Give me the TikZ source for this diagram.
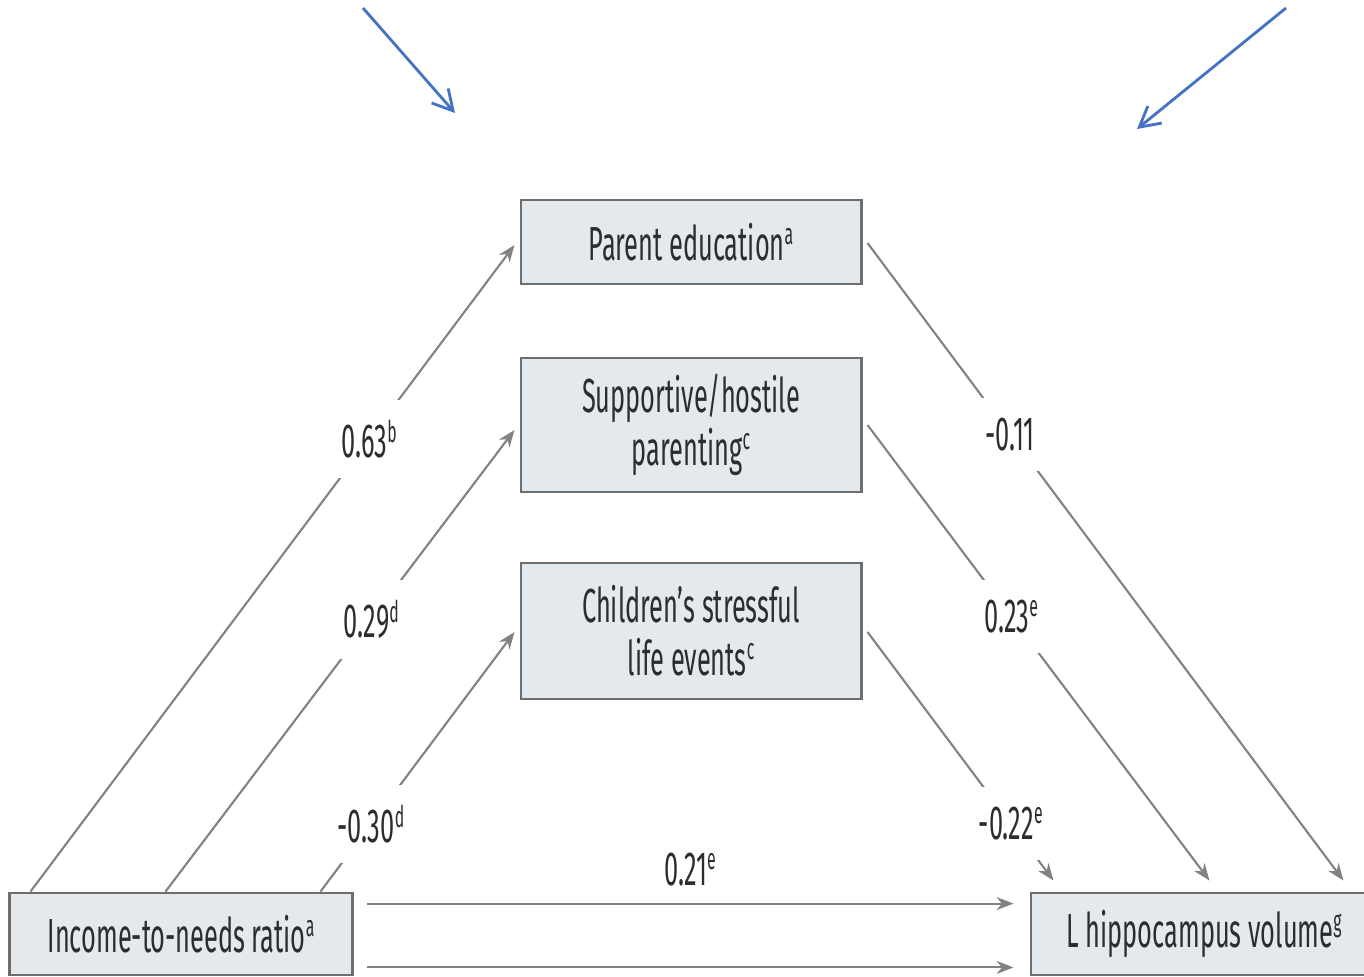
\documentclass[tikz,border=0pt]{standalone}
\usepackage{fontspec}
\setmainfont{Fira Sans}[FakeStretch=0.53]
\usepackage{xcolor}
\usetikzlibrary{arrows.meta,calc}
\definecolor{boxfill}{RGB}{228,233,238}
\definecolor{boxline}{RGB}{110,110,110}
\definecolor{arrowgray}{RGB}{130,130,130}
\definecolor{textgray}{RGB}{45,45,45}
\definecolor{pointblue}{RGB}{68,114,196}
\newcommand{\fnm}[1]{\raisebox{0.33em}{\fontsize{8.5}{8.5}\selectfont #1}}

\begin{document}
\begin{tikzpicture}[
		x=0.01cm, y=-0.01cm,
		font=\fontsize{13.6}{14}\selectfont,
		box/.style={draw=boxline, fill=boxfill, line width=0.8pt, minimum width=3.4cm, inner sep=0pt, align=center, text=textgray},
		flow/.style={draw=arrowgray, line width=0.6pt, -{Stealth[length=1.7mm, width=1.3mm]}},
		coef/.style={fill=white, inner sep=2mm, text=textgray},
		pointer/.style={draw=pointblue, line width=0.8pt, -{Straight Barb[length=2mm, width=2.2mm]}}]
		\useasboundingbox (0,0) rectangle (1364,976);

		\node[box, minimum height=0.84cm] (parent) at (691,242) {Parent education\fnm{a}};
		\node[box, minimum height=1.34cm] (support) at (691,425) {Supportive/hostile\\[1pt]parenting\fnm{c}};
		\node[box, minimum height=1.36cm] (stress) at (691,631) {Children's stressful\\[1pt]life events\fnm{c}};
		\node[box, minimum width=3.42cm, minimum height=0.82cm] (income) at (181,934) {Income-to-needs ratio\fnm{a}};
		\node[box, minimum width=3.46cm, minimum height=0.82cm] (hippo) at (1204,934) {L hippocampus volume\fnm{g}};

		% income to mediators
		\draw[flow] ($(income.north west)+(22,0)$) -- node[coef, pos=0.70] {0.63\fnm{b}} ($(parent.west)+(-5,3)$);
		\draw[flow] ($(income.north west)+(157,0)$) -- node[coef, pos=0.59] {0.29\fnm{d}} ($(support.west)+(-5,5)$);
		\draw[flow] ($(income.north west)+(312,0)$) -- node[coef, pos=0.26] {-0.30\fnm{d}} ($(stress.west)+(-5,1)$);

		% mediators to outcome
		\draw[flow] ($(parent.east)+(5,1)$) -- node[coef, pos=0.30] {-0.11} ($(hippo.north west)+(314,-11)$);
		\draw[flow] ($(support.east)+(5,0)$) -- node[coef, pos=0.42] {0.23\fnm{e}} ($(hippo.north west)+(180,-11)$);
		\draw[flow] ($(stress.east)+(5,1)$) -- node[coef, pos=0.77] {-0.22\fnm{e}} ($(hippo.north west)+(24,-11)$);

		% direct paths
		\draw[flow] ($(income.north east)+(13,12)$) -- node[above, text=textgray, yshift=0.5mm] {0.21\fnm{e}} ($(hippo.north west)+(-16,12)$);
		\draw[flow] ($(income.south east)+(13,-9)$) -- ($(hippo.south west)+(-16,-9)$);

		% pointers
		\coordinate (tipa) at (363,8);
		\coordinate (tipb) at (1286,8);
		\coordinate (enda) at (455,113);
		\coordinate (endb) at (1137,129);
		\draw[pointer] (tipa) -- (enda);
		\draw[pointer] (tipb) -- (endb);
	\end{tikzpicture}
\end{document}
